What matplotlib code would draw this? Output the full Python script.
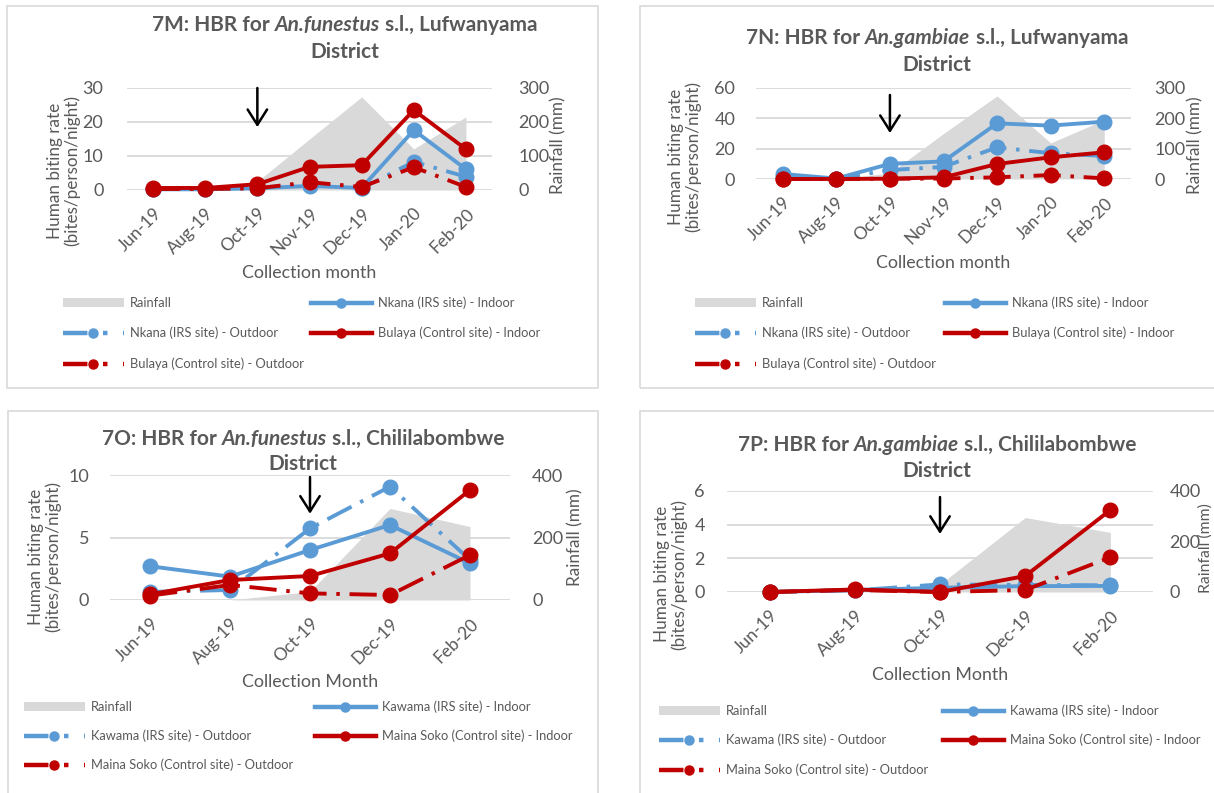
import matplotlib
matplotlib.use("Agg")
import matplotlib.pyplot as plt
from matplotlib.lines import Line2D
from matplotlib.patches import Patch, Rectangle

# ---------------- data ----------------
months_lufwanyama = ["Jun-19", "Aug-19", "Oct-19", "Nov-19", "Dec-19", "Jan-20", "Feb-20"]
months_chililabombwe = ["Jun-19", "Aug-19", "Oct-19", "Dec-19", "Feb-20"]

# 7M  An. funestus, Lufwanyama
rain_7m = [0, 0, 25, 150, 274, 121, 215]
nkana_in_7m = [0.2, 0.2, 0.5, 1.2, 0.6, 17.6, 6.1]
nkana_out_7m = [0.3, 0.3, 0.7, 1.5, 0.5, 8.3, 3.9]
bulaya_in_7m = [0.6, 0.6, 1.7, 6.8, 7.3, 23.5, 12.0]
bulaya_out_7m = [0.3, 0.3, 0.5, 2.3, 0.9, 6.7, 0.9]

# 7N  An. gambiae, Lufwanyama
rain_7n = [0, 0, 20, 150, 274, 119, 195]
nkana_in_7n = [3.3, 0.3, 10.0, 11.6, 36.7, 35.2, 37.8]
nkana_out_7n = [1.5, 0.3, 5.9, 8.0, 20.9, 17.0, 15.2]
bulaya_in_7n = [0.0, 0.0, 0.2, 1.1, 9.9, 14.3, 17.6]
bulaya_out_7n = [0.0, 0.0, 0.2, 0.3, 1.1, 2.6, 0.4]

# 7O  An. funestus, Chililabombwe
rain_7o = [0, 0, 27, 293, 235]
kawama_in_7o = [2.7, 1.87, 4.0, 6.0, 2.93]
kawama_out_7o = [0.65, 0.8, 5.73, 9.07, 3.2]
maina_in_7o = [0.45, 1.6, 1.92, 3.73, 8.8]
maina_out_7o = [0.35, 1.2, 0.53, 0.4, 3.6]

# 7P  An. gambiae, Chililabombwe
rain_7p = [0, 0, 30, 295, 236]
kawama_in_7p = [0.0, 0.12, 0.25, 0.35, 0.36]
kawama_out_7p = [0.0, 0.1, 0.45, 0.42, 0.4]
maina_in_7p = [0.0, 0.15, 0.0, 0.95, 4.87]
maina_out_7p = [0.0, 0.12, 0.0, 0.12, 2.06]

labels_lufwanyama = ["Nkana (IRS site) - Indoor", "Nkana (IRS site) - Outdoor",
                     "Bulaya (Control site) - Indoor", "Bulaya (Control site) - Outdoor"]
labels_chililabombwe = ["Kawama (IRS site) - Indoor", "Kawama (IRS site) - Outdoor",
                        "Maina Soko (Control site) - Indoor", "Maina Soko (Control site) - Outdoor"]

# ---------------- style ----------------
W, H = 1214, 793
plt.rcParams["font.family"] = ["Lato", "DejaVu Sans"]
TXT = "#595959"
BLUE = "#5B9BD5"
RED = "#C00000"
FILL = "#D9D9D9"
GRID = "#D9D9D9"
LW = 2.8
MS = 10.5
DASH = (7, 2.5, 0.9, 2.5)
TITLE_FS = 15

fig = plt.figure(figsize=(W / 100, H / 100), dpi=100)
renderer = fig.canvas.get_renderer()


def fx(px):
    return px / W


def fy(py):
    return 1 - py / H


def mixed_title(cx, y, parts, fs):
    texts = []
    for s, st in parts:
        t = fig.text(0, fy(y), s, fontsize=fs, fontweight="bold", fontstyle=st,
                     color=TXT, ha="left", va="center")
        texts.append(t)
    sp = fig.text(0, 0, "a a", fontsize=fs, fontweight="bold")
    sp2 = fig.text(0, 0, "aa", fontsize=fs, fontweight="bold")
    space = sp.get_window_extent(renderer).width - sp2.get_window_extent(renderer).width
    sp.remove()
    sp2.remove()
    widths = [t.get_window_extent(renderer).width for t in texts]
    gaps = [space if i < len(texts) - 1 else 0 for i in range(len(texts))]
    total = sum(widths) + sum(gaps)
    x = cx - total / 2
    for t, w, g in zip(texts, widths, gaps):
        t.set_x(fx(x))
        x += w + g


def panel(cfg, cats, rain, s1_in, s1_out, s2_in, s2_out, labels):
    l, r, t, b = cfg["plot"]
    ax = fig.add_axes([fx(l), fy(b), (r - l) / W, (b - t) / H])
    ax2 = ax.twinx()
    ax.set_zorder(ax2.get_zorder() + 1)
    ax.patch.set_visible(False)
    x = list(range(len(cats)))

    ax2.fill_between(x, 0, rain, color=FILL, lw=0)
    ax.plot(x, s1_in, color=BLUE, lw=LW, marker="o", ms=MS, clip_on=False, zorder=3)
    ax.plot(x, s1_out, color=BLUE, lw=LW, marker="o", ms=MS, dashes=DASH,
            clip_on=False, zorder=4)
    ax.plot(x, s2_in, color=RED, lw=LW, marker="o", ms=MS, clip_on=False, zorder=5)
    ax.plot(x, s2_out, color=RED, lw=LW, marker="o", ms=MS, dashes=DASH,
            clip_on=False, zorder=6)

    ax.set_xlim(-0.5, len(cats) - 0.5)
    ax.set_ylim(0, cfg["lticks"][-1])
    ax.set_yticks(cfg["lticks"])
    ax2.set_ylim(0, cfg["rticks"][-1])
    ax2.set_yticks(cfg["rticks"])
    ax.grid(axis="y", color=GRID, lw=1.3)
    ax.set_axisbelow(True)
    for a in (ax, ax2):
        for s in a.spines.values():
            s.set_visible(False)
    ax.tick_params(axis="y", length=0, pad=cfg["lpad"], labelsize=13, labelcolor=TXT)
    ax2.tick_params(axis="y", length=0, pad=cfg["rpad"], labelsize=13, labelcolor=TXT)
    ax.set_xticks(x)
    ax.set_xticklabels(cats, rotation=45, ha="right", va="top", rotation_mode="anchor")
    ax.tick_params(axis="x", length=0, pad=11, labelsize=12.5, labelcolor=TXT)

    ax.annotate("", xy=(2, cfg["arrow"][1]), xytext=(2, cfg["arrow"][0]),
                arrowprops=dict(arrowstyle="->,head_length=0.55,head_width=0.35",
                                color="black", lw=1.8, mutation_scale=20,
                                shrinkA=0, shrinkB=0), zorder=10)

    # box
    bx0, bx1, by0, by1 = cfg["box"]
    fig.add_artist(Rectangle((fx(bx0), fy(by1)), (bx1 - bx0) / W, (by1 - by0) / H,
                             transform=fig.transFigure, fill=False,
                             edgecolor="#D9D9D9", lw=1.2, clip_on=False))

    mixed_title(cfg["tcx"], cfg["ty"][0], cfg["title"], TITLE_FS)
    fig.text(fx(cfg["tcx"]), fy(cfg["ty"][1]), "District", fontsize=TITLE_FS,
             fontweight="bold", color=TXT, ha="center", va="center")

    fig.text(fx(cfg["ylab"][0]), fy(cfg["ylab"][1]),
             "Human biting rate\n(bites/person/night)", rotation=90, fontsize=12.3,
             color=TXT, ha="center", va="center", multialignment="center",
             linespacing=1.05)
    fig.text(fx(cfg["rlab"][0]), fy(cfg["rlab"][1]), "Rainfall (mm)", rotation=90,
             fontsize=cfg.get("rlab_fs", 12.3), color=TXT, ha="center", va="center")
    fig.text(fx(cfg["xlab"][0]), fy(cfg["xlab"][1]), cfg["xlabel"], fontsize=12.8,
             color=TXT, ha="center", va="center")

    # legend
    h_rain = Patch(facecolor=FILL, edgecolor="none")
    h_in1 = Line2D([], [], color=BLUE, lw=LW + 0.4, marker="o", ms=6.5)
    h_out1 = Line2D([], [], color=BLUE, lw=LW + 0.4, marker="o", ms=6.5, dashes=(5.5, 3.5, 1, 3.5))
    h_in2 = Line2D([], [], color=RED, lw=LW + 0.4, marker="o", ms=6.5)
    h_out2 = Line2D([], [], color=RED, lw=LW + 0.4, marker="o", ms=6.5, dashes=(5.5, 3.5, 1, 3.5))
    rows = cfg["lrows"]
    c1, c2 = cfg["lcols"]
    entries = [(h_rain, "Rainfall", c1, rows[0]),
               (h_in1, labels[0], c2, rows[0]),
               (h_out1, labels[1], c1, rows[1]),
               (h_in2, labels[2], c2, rows[1]),
               (h_out2, labels[3], c1, rows[2])]
    for h, lab, xx, yy in entries:
        fig.legend([h], [lab], loc="center left", bbox_to_anchor=(fx(xx), fy(yy)),
                   frameon=False, borderpad=0, borderaxespad=0, handlelength=4.7,
                   handletextpad=0.5, fontsize=9.3, labelcolor=TXT)


cfg_7m = dict(plot=(127, 492, 88, 190), box=(7, 598, 6, 388), tcx=345, ty=(25, 52),
              title=[("7M: HBR for", "normal"), ("An.funestus", "italic"),
                     ("s.l., Lufwanyama", "normal")],
              lticks=[0, 10, 20, 30], rticks=[0, 100, 200, 300], lpad=17, rpad=19,
              ylab=(64, 171), rlab=(558, 145), xlab=(309, 273), xlabel="Collection month",
              lrows=(303, 333, 364), lcols=(63, 311), arrow=(30, 18.5))
cfg_7n = dict(plot=(756, 1131, 88, 179), box=(640, 1225, 6, 388), tcx=937, ty=(38, 65),
              title=[("7N: HBR for", "normal"), ("An.gambiae", "italic"),
                     ("s.l., Lufwanyama", "normal")],
              lticks=[0, 20, 40, 60], rticks=[0, 100, 200, 300], lpad=15, rpad=17,
              ylab=(685, 157), rlab=(1195, 145), xlab=(943, 263), xlabel="Collection month",
              lrows=(303, 333, 364), lcols=(695, 945), arrow=(55.4, 30.3))
cfg_7o = dict(plot=(110, 510, 475, 600), box=(8, 598, 411, 800), tcx=303, ty=(439, 464),
              title=[("7O: HBR for", "normal"), ("An.funestus", "italic"),
                     ("s.l., Chililabombwe", "normal")],
              lticks=[0, 5, 10], rticks=[0, 200, 400], lpad=15, rpad=16,
              ylab=(45, 557), rlab=(575, 537), xlab=(310, 682), xlabel="Collection Month",
              lrows=(707, 736, 765), lcols=(24, 315), arrow=(9.84, 6.9))
cfg_7p = dict(plot=(727, 1153, 491, 592), box=(640, 1225, 411, 800), tcx=937, ty=(445, 471),
              title=[("7P: HBR for", "normal"), ("An.gambiae", "italic"),
                     ("s.l., Chililabombwe", "normal")],
              lticks=[0, 2, 4, 6], rticks=[0, 200, 400], lpad=16, rpad=12,
              ylab=(671, 574), rlab=(1206, 548), rlab_fs=11.3, xlab=(940, 675),
              xlabel="Collection Month",
              lrows=(711, 740, 770), lcols=(659, 943), arrow=(5.64, 3.45))

panel(cfg_7m, months_lufwanyama, rain_7m, nkana_in_7m, nkana_out_7m, bulaya_in_7m,
      bulaya_out_7m, labels_lufwanyama)
panel(cfg_7n, months_lufwanyama, rain_7n, nkana_in_7n, nkana_out_7n, bulaya_in_7n,
      bulaya_out_7n, labels_lufwanyama)
panel(cfg_7o, months_chililabombwe, rain_7o, kawama_in_7o, kawama_out_7o, maina_in_7o,
      maina_out_7o, labels_chililabombwe)
panel(cfg_7p, months_chililabombwe, rain_7p, kawama_in_7p, kawama_out_7p, maina_in_7p,
      maina_out_7p, labels_chililabombwe)

fig.savefig("out.png", dpi=100)
